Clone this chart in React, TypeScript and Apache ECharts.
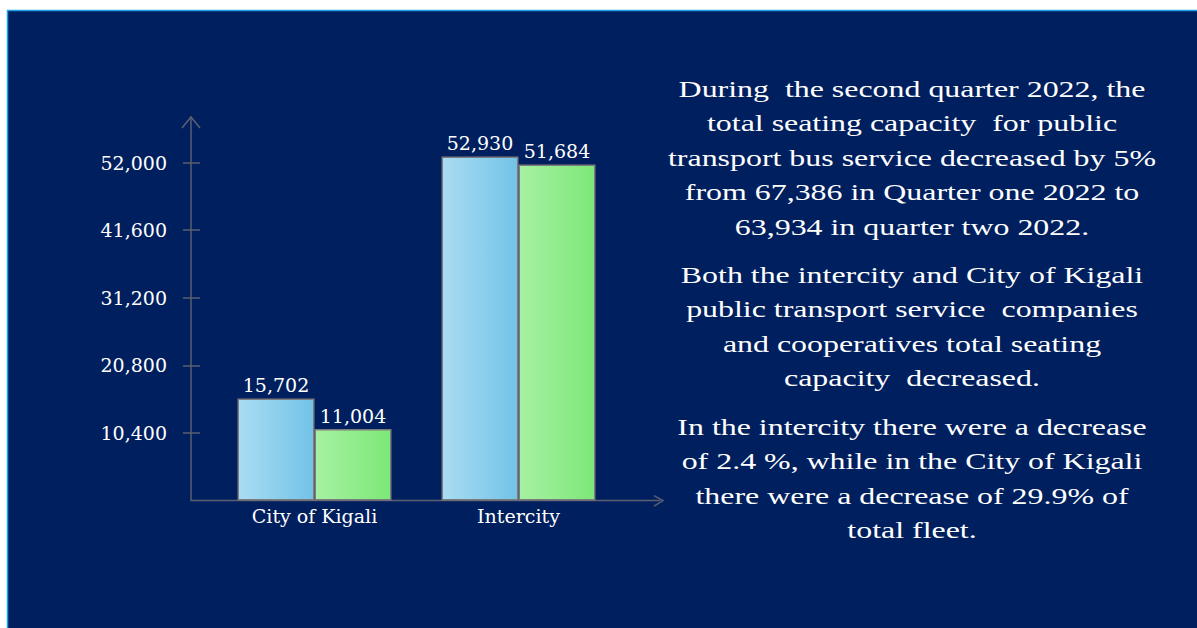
import React, { useEffect, useRef } from "react";
import * as echarts from "echarts";

const categories = ["City of Kigali", "Intercity"];
const quarterOne = [15702, 52930];
const quarterTwo = [11004, 51684];
const yTickValues = [10400, 20800, 31200, 41600, 52000];
const yMax = 59000;

const paragraphs = [
  "During  the second quarter 2022, the\ntotal seating capacity  for public\ntransport bus service decreased by 5%\nfrom 67,386 in Quarter one 2022 to\n63,934 in quarter two 2022.",
  "Both the intercity and City of Kigali\npublic transport service  companies\nand cooperatives total seating\ncapacity  decreased.",
  "In the intercity there were a decrease\nof 2.4 %, while in the City of Kigali\nthere were a decrease of 29.9% of\ntotal fleet.",
];
const paragraphTops = [71.6, 257.6, 409.6];

const GRID_LEFT = 212.5;
const GRID_WIDTH = 408;
const GRID_TOP = 117;
const GRID_HEIGHT = 383.6;
const Y_OFFSET = 21.5;
const AXIS_COLOR = "#5b5f70";
const BG = "#001f5e";
const LABEL_FONT = "'DejaVu Serif', serif";
const LABEL_SIZE = 19;

const fmt = (v: number) => v.toLocaleString("en-US");

export default function App() {
  const ref = useRef<HTMLDivElement>(null);

  useEffect(() => {
    if (!ref.current) return;
    const chart = echarts.init(ref.current, undefined, { renderer: "svg" });
    const axisX = GRID_LEFT - Y_OFFSET;
    const axisY = GRID_TOP + GRID_HEIGHT;
    const xEnd = 660;

    const gradient = (a: string, b: string) =>
      new echarts.graphic.LinearGradient(0, 0, 1, 0, [
        { offset: 0, color: a },
        { offset: 1, color: b },
      ]);

    const barLabel = {
      show: true,
      position: "top" as const,
      distance: 4,
      color: "#ffffff",
      fontFamily: LABEL_FONT,
      fontSize: LABEL_SIZE,
      formatter: (p: any) => fmt(p.value),
    };

    chart.setOption({
      animation: false,
      backgroundColor: "#ffffff",
      grid: {
        left: GRID_LEFT,
        top: GRID_TOP,
        width: GRID_WIDTH,
        height: GRID_HEIGHT,
        containLabel: false,
      },
      xAxis: {
        type: "category",
        data: categories,
        axisLine: { show: false },
        axisTick: { show: false },
        axisLabel: {
          color: "#ffffff",
          fontFamily: LABEL_FONT,
          fontSize: LABEL_SIZE,
          margin: 6,
        },
        splitLine: { show: false },
      },
      yAxis: [
        {
          type: "value",
          min: 0,
          max: yMax,
          position: "left",
          offset: Y_OFFSET,
          axisLine: { show: true, lineStyle: { color: AXIS_COLOR, width: 1.5 } },
          axisTick: {
            show: true,
            length: 8,
            customValues: yTickValues,
            lineStyle: { color: AXIS_COLOR, width: 1.5 },
          },
          axisLabel: {
            show: true,
            customValues: yTickValues,
            color: "#ffffff",
            fontFamily: LABEL_FONT,
            fontSize: LABEL_SIZE,
            margin: 24,
            formatter: (v: number) => fmt(v),
          },
          splitLine: { show: false },
        },
        {
          type: "value",
          min: 0,
          max: yMax,
          position: "left",
          offset: Y_OFFSET,
          axisLine: { show: false },
          axisTick: {
            show: true,
            inside: true,
            length: 9,
            customValues: yTickValues,
            lineStyle: { color: AXIS_COLOR, width: 1.5 },
          },
          axisLabel: { show: false },
          splitLine: { show: false },
        },
      ],
      series: [
        {
          name: "Quarter one 2022",
          type: "bar",
          data: quarterOne,
          barWidth: 77,
          barGap: "0%",
          itemStyle: {
            color: gradient("#aadcf2", "#72c3e8"),
            borderColor: "#7c7c7c",
            borderWidth: 1.5,
          },
          label: barLabel,
        },
        {
          name: "Quarter two 2022",
          type: "bar",
          data: quarterTwo,
          barWidth: 77,
          barGap: "0%",
          itemStyle: {
            color: gradient("#a6f1a2", "#7de878"),
            borderColor: "#7c7c7c",
            borderWidth: 1.5,
          },
          label: barLabel,
        },
      ],
      graphic: [
        {
          type: "rect",
          z: -100,
          silent: true,
          shape: { x: 7, y: 10, width: 1190, height: 618 },
          style: { fill: BG },
        },
        {
          type: "line",
          z: -90,
          silent: true,
          shape: { x1: 7, y1: 10.5, x2: 1197, y2: 10.5 },
          style: { stroke: "#1ea3e8", lineWidth: 1.5 },
        },
        {
          type: "line",
          z: -90,
          silent: true,
          shape: { x1: 7.5, y1: 10, x2: 7.5, y2: 628 },
          style: { stroke: "#1ea3e8", lineWidth: 1.5 },
        },
        {
          type: "line",
          silent: true,
          shape: { x1: axisX, y1: axisY, x2: xEnd, y2: axisY },
          style: { stroke: AXIS_COLOR, lineWidth: 1.5 },
        },
        {
          type: "polyline",
          silent: true,
          shape: {
            points: [
              [xEnd - 6, axisY - 5],
              [xEnd + 3, axisY],
              [xEnd - 6, axisY + 5.5],
            ],
          },
          style: { stroke: AXIS_COLOR, lineWidth: 1.5, fill: "none" },
        },
        {
          type: "polyline",
          silent: true,
          shape: {
            points: [
              [axisX - 9, GRID_TOP + 11],
              [axisX, GRID_TOP],
              [axisX + 9, GRID_TOP + 11],
            ],
          },
          style: { stroke: AXIS_COLOR, lineWidth: 1.5, fill: "none" },
        },
        ...paragraphs.map((t, i) => ({
          type: "text",
          silent: true,
          x: 912,
          y: paragraphTops[i],
          scaleX: 1.33,
          style: {
            text: t,
            fill: "#ffffff",
            fontSize: 24,
            fontFamily: "'Liberation Serif', 'Times New Roman', serif",
            align: "center",
            verticalAlign: "top",
            lineHeight: 34.5,
          },
        })),
      ],
    });

    return () => chart.dispose();
  }, []);

  return (
    <div
      ref={ref}
      style={{ position: "fixed", left: 0, top: 0, width: 1197, height: 628 }}
    />
  );
}
